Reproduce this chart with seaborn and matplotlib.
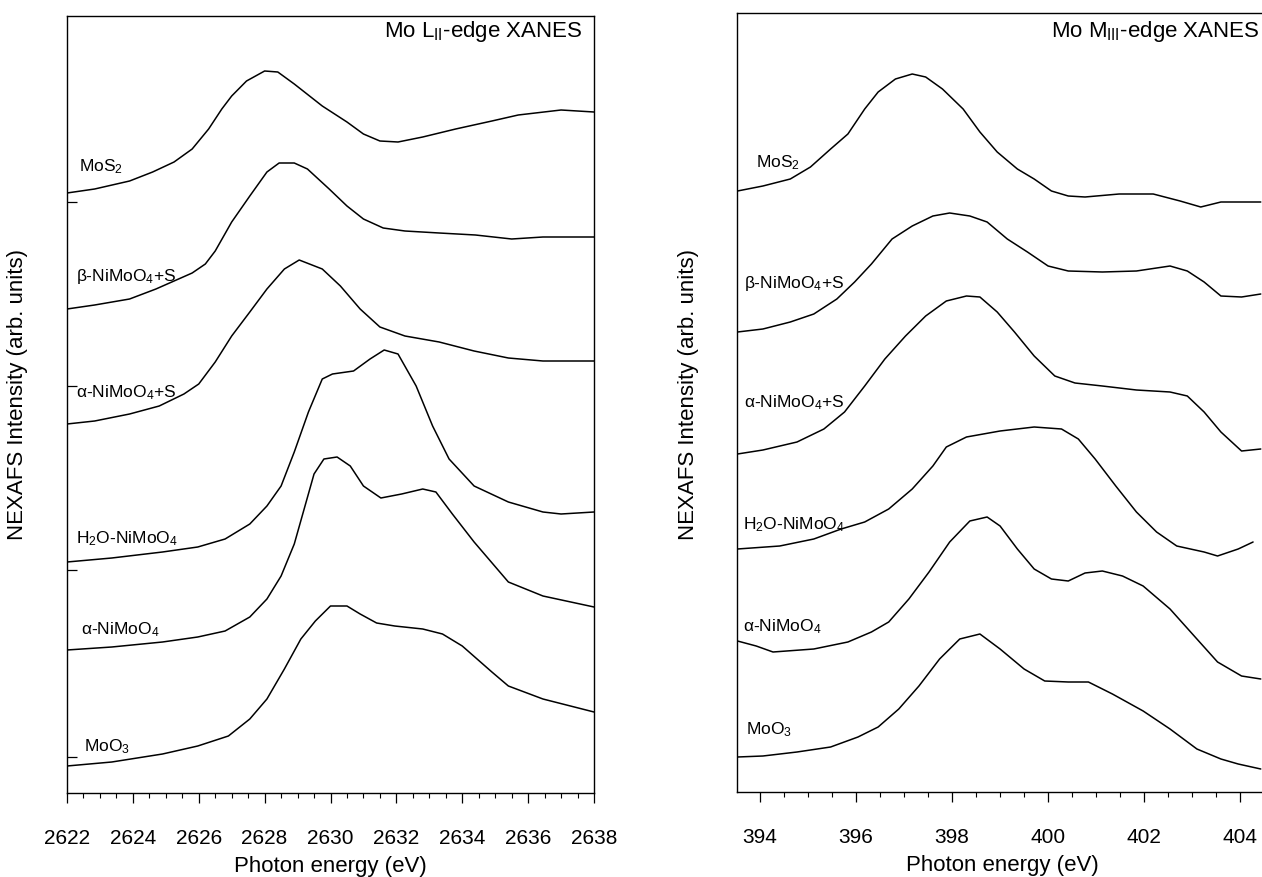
import matplotlib
matplotlib.use("Agg")
import matplotlib.pyplot as plt
from matplotlib.ticker import MultipleLocator
import seaborn as sns
import pandas as pd
import numpy as np

# sample names, top to bottom
samples = ['MoS$_2$', 'β-NiMoO$_4$+S', 'α-NiMoO$_4$+S',
           'H$_2$O-NiMoO$_4$', 'α-NiMoO$_4$', 'MoO$_3$']

# ---- Mo L_II edge (left), stacked intensities (arb. units) ----
l_mos2_e = [2622, 2622.84, 2623.9, 2624.6, 2625.25, 2625.8, 2626.3, 2626.7, 2627.0, 2627.45, 2628.0, 2628.4,
            2628.9, 2629.75, 2630.5, 2631.0, 2631.5, 2632.05, 2632.8, 2633.8, 2634.9, 2635.7, 2637.0, 2638.0]
l_mos2_i = [6.00, 6.04, 6.12, 6.21, 6.31, 6.44, 6.64, 6.84, 6.97, 7.12, 7.22, 7.21,
            7.09, 6.87, 6.71, 6.59, 6.52, 6.51, 6.56, 6.64, 6.72, 6.78, 6.83, 6.81]

l_bnis_e = [2622, 2622.84, 2623.9, 2624.7, 2625.25, 2625.8, 2626.2, 2626.5, 2627.0, 2627.55, 2628.07, 2628.44,
            2628.9, 2629.3, 2629.96, 2630.5, 2631.0, 2631.6, 2632.26, 2633.3, 2634.4, 2635.5, 2636.45, 2638]
l_bnis_i = [4.84, 4.88, 4.94, 5.04, 5.12, 5.20, 5.29, 5.42, 5.71, 5.97, 6.21, 6.30,
            6.30, 6.24, 6.04, 5.87, 5.74, 5.65, 5.62, 5.60, 5.58, 5.54, 5.56, 5.56]

l_anis_e = [2622, 2622.84, 2623.9, 2624.8, 2625.55, 2626.0, 2626.5, 2627.0, 2627.55, 2628.07, 2628.6,
            2629.05, 2629.75, 2630.3, 2630.9, 2631.5, 2632.26, 2633.3, 2634.36, 2635.4, 2636.45, 2638]
l_anis_i = [3.69, 3.72, 3.79, 3.87, 3.99, 4.09, 4.31, 4.57, 4.81, 5.04, 5.24,
            5.33, 5.24, 5.07, 4.84, 4.66, 4.57, 4.51, 4.42, 4.35, 4.32, 4.32]

l_h2o_e = [2622, 2623.36, 2624.9, 2625.97, 2626.8, 2627.55, 2628.07, 2628.5, 2628.9, 2629.33, 2629.75, 2630.06,
           2630.7, 2631.2, 2631.63, 2632.05, 2632.6, 2633.1, 2633.6, 2634.36, 2635.4, 2636.45, 2637.0, 2638]
l_h2o_i = [2.31, 2.35, 2.41, 2.46, 2.54, 2.69, 2.87, 3.07, 3.41, 3.81, 4.14, 4.19,
           4.22, 4.34, 4.43, 4.39, 4.07, 3.67, 3.34, 3.07, 2.91, 2.81, 2.79, 2.81]

l_ani_e = [2622, 2623.36, 2624.9, 2625.97, 2626.8, 2627.55, 2628.07, 2628.5, 2628.9, 2629.2, 2629.5, 2629.8,
           2630.2, 2630.6, 2631.0, 2631.53, 2632.16, 2632.8, 2633.2, 2633.7, 2634.36, 2635.4, 2636.45, 2638]
l_ani_i = [1.43, 1.46, 1.51, 1.56, 1.62, 1.76, 1.94, 2.17, 2.49, 2.84, 3.19, 3.34,
           3.36, 3.27, 3.07, 2.95, 2.99, 3.04, 3.01, 2.79, 2.51, 2.11, 1.97, 1.86]

l_moo3_e = [2622, 2623.36, 2624.9, 2625.97, 2626.9, 2627.55, 2628.07, 2628.6, 2629.1, 2629.54, 2630.0,
            2630.5, 2630.9, 2631.4, 2631.95, 2632.8, 2633.4, 2634.0, 2634.9, 2635.4, 2636.45, 2638]
l_moo3_i = [0.27, 0.31, 0.39, 0.47, 0.57, 0.74, 0.94, 1.24, 1.54, 1.72, 1.87,
            1.87, 1.79, 1.70, 1.67, 1.64, 1.59, 1.47, 1.21, 1.07, 0.94, 0.81]

l_label_x = [2622.36, 2622.26, 2622.26, 2622.27, 2622.42, 2622.52]
l_label_y = [6.27, 5.18, 4.01, 2.55, 1.64, 0.47]
l_marks = [5.91, 4.07, 2.23, 0.36]

# ---- Mo M_III edge (right) ----
r_mos2_e = [393.53, 394.06, 394.63, 395.05, 395.47, 395.83, 396.18, 396.46, 396.82, 397.17, 397.45, 397.8, 398.23,
            398.58, 398.94, 399.36, 399.71, 400.07, 400.42, 400.77, 401.48, 402.19, 402.75, 403.18, 403.6, 404.43]
r_mos2_i = [6.01, 6.06, 6.13, 6.25, 6.43, 6.58, 6.83, 7.00, 7.13, 7.18, 7.15, 7.03, 6.83,
            6.60, 6.40, 6.23, 6.13, 6.01, 5.96, 5.95, 5.98, 5.98, 5.91, 5.85, 5.90, 5.90]

r_bnis_e = [393.53, 394.06, 394.63, 395.12, 395.6, 395.97, 396.32, 396.75, 397.17, 397.6, 397.95, 398.37, 398.73,
            399.15, 399.57, 400.0, 400.42, 401.13, 401.84, 402.54, 402.9, 403.25, 403.6, 404.03, 404.43]
r_bnis_i = [4.60, 4.63, 4.70, 4.78, 4.93, 5.10, 5.28, 5.53, 5.66, 5.76, 5.79, 5.76, 5.70,
            5.53, 5.40, 5.26, 5.21, 5.20, 5.21, 5.26, 5.21, 5.10, 4.96, 4.95, 4.98]

r_anis_e = [393.53, 394.06, 394.77, 395.33, 395.76, 396.18, 396.6, 397.03, 397.45, 397.88, 398.3, 398.58, 398.94,
            399.3, 399.71, 400.14, 400.56, 401.13, 401.84, 402.54, 402.9, 403.25, 403.6, 404.03, 404.43]
r_anis_i = [3.38, 3.42, 3.50, 3.63, 3.80, 4.06, 4.33, 4.56, 4.76, 4.91, 4.96, 4.95, 4.80,
            4.60, 4.36, 4.16, 4.09, 4.06, 4.02, 4.00, 3.96, 3.80, 3.60, 3.41, 3.43]

r_h2o_e = [393.53, 394.41, 395.12, 395.69, 396.18, 396.68, 397.17, 397.6, 397.88, 398.3, 399.0, 399.71,
           400.28, 400.63, 400.98, 401.41, 401.84, 402.26, 402.68, 403.25, 403.53, 403.96, 404.27]
r_h2o_i = [2.43, 2.46, 2.53, 2.63, 2.70, 2.83, 3.03, 3.26, 3.45, 3.55, 3.61, 3.65,
           3.63, 3.53, 3.33, 3.06, 2.80, 2.60, 2.46, 2.40, 2.36, 2.43, 2.50]

r_ani_e = [393.53, 393.92, 394.27, 395.12, 395.83, 396.32, 396.68, 397.1, 397.52, 397.95, 398.37, 398.73, 399.0,
           399.36, 399.71, 400.07, 400.42, 400.77, 401.13, 401.55, 401.98, 402.54, 403.1, 403.53, 404.03, 404.43]
r_ani_i = [1.51, 1.46, 1.40, 1.43, 1.50, 1.60, 1.70, 1.93, 2.20, 2.50, 2.71, 2.75, 2.66,
           2.43, 2.23, 2.13, 2.11, 2.19, 2.21, 2.16, 2.06, 1.83, 1.53, 1.30, 1.16, 1.13]

r_moo3_e = [393.53, 394.06, 394.77, 395.47, 396.04, 396.46, 396.89, 397.31, 397.74, 398.16, 398.58, 399.0,
            399.5, 399.93, 400.42, 400.84, 401.34, 401.98, 402.54, 403.1, 403.6, 403.96, 404.43]
r_moo3_i = [0.35, 0.36, 0.40, 0.45, 0.55, 0.65, 0.83, 1.06, 1.33, 1.53, 1.58, 1.43,
            1.23, 1.11, 1.10, 1.10, 0.98, 0.81, 0.63, 0.43, 0.33, 0.28, 0.23]

r_label_x = [393.92, 393.67, 393.67, 393.65, 393.65, 393.71]
r_label_y = [6.30, 5.10, 3.90, 2.68, 1.66, 0.63]

sns.set_style('ticks')
plt.rcParams['font.family'] = ['Liberation Sans', 'DejaVu Sans']
plt.rcParams['mathtext.fontset'] = 'custom'
plt.rcParams['mathtext.rm'] = 'Liberation Sans'
plt.rcParams['mathtext.it'] = 'Liberation Sans:italic'
plt.rcParams['mathtext.bf'] = 'Liberation Sans:bold'
plt.rcParams['text.color'] = 'black'
plt.rcParams['axes.labelcolor'] = 'black'
plt.rcParams['xtick.color'] = 'black'
plt.rcParams['ytick.color'] = 'black'


def make_df(es, vs):
    parts = []
    for name, e, v in zip(samples, es, vs):
        parts.append(pd.DataFrame({'energy': e, 'intensity': v, 'sample': name}))
    return pd.concat(parts, ignore_index=True)


left = make_df([l_mos2_e, l_bnis_e, l_anis_e, l_h2o_e, l_ani_e, l_moo3_e],
               [l_mos2_i, l_bnis_i, l_anis_i, l_h2o_i, l_ani_i, l_moo3_i])
right = make_df([r_mos2_e, r_bnis_e, r_anis_e, r_h2o_e, r_ani_e, r_moo3_e],
                [r_mos2_i, r_bnis_i, r_anis_i, r_h2o_i, r_ani_i, r_moo3_i])

fig = plt.figure(figsize=(12.62, 8.78), dpi=100)
ax1 = fig.add_axes([67 / 1262, 84 / 878, 527 / 1262, 777 / 878])
ax2 = fig.add_axes([737 / 1262, 85 / 878, 530 / 1262, 779 / 878])

for ax, df, lx, ly in [(ax1, left, l_label_x, l_label_y), (ax2, right, r_label_x, r_label_y)]:
    sns.lineplot(data=df, x='energy', y='intensity', hue='sample', palette=['black'] * 6,
                 estimator=None, sort=False, legend=False, lw=1.1, ax=ax)
    for name, x, y in zip(samples, lx, ly):
        ax.text(x, y, name, fontsize=12.5, ha='left', va='center')
    ax.xaxis.set_major_locator(MultipleLocator(2))
    ax.xaxis.set_minor_locator(MultipleLocator(0.5))
    ax.tick_params(axis='x', which='major', direction='out', length=7, width=0.9, labelsize=15, pad=18)
    ax.tick_params(axis='x', which='minor', direction='out', length=3.5, width=0.8)
    ax.set_xlabel('Photon energy (eV)', fontsize=16, labelpad=6)
    ax.set_ylabel('')
    for s in ax.spines.values():
        s.set_linewidth(1.0)
        s.set_color('black')

ax1.set_xlim(2622, 2638)
ax1.set_ylim(0, 7.77)
ax1.set_yticks(l_marks)
ax1.set_yticklabels([])
ax1.tick_params(axis='y', direction='in', length=7, width=0.9)

ax2.set_xlim(393.52, 404.56)
ax2.set_ylim(0, 7.79)
ax2.set_yticks([])

ax1.text(0.977, 0.981, 'Mo L$_{\\mathrm{II}}$-edge XANES', transform=ax1.transAxes,
         ha='right', va='center', fontsize=16)
ax2.text(0.985, 0.977, 'Mo M$_{\\mathrm{III}}$-edge XANES', transform=ax2.transAxes,
         ha='right', va='center', fontsize=16)

fig.text(18 / 1262, 1 - 395 / 878, 'NEXAFS Intensity (arb. units)', rotation=90,
         ha='center', va='center', fontsize=16)
fig.text(688 / 1262, 1 - 395 / 878, 'NEXAFS Intensity (arb. units)', rotation=90,
         ha='center', va='center', fontsize=16)

fig.savefig('out.png', dpi=100)
